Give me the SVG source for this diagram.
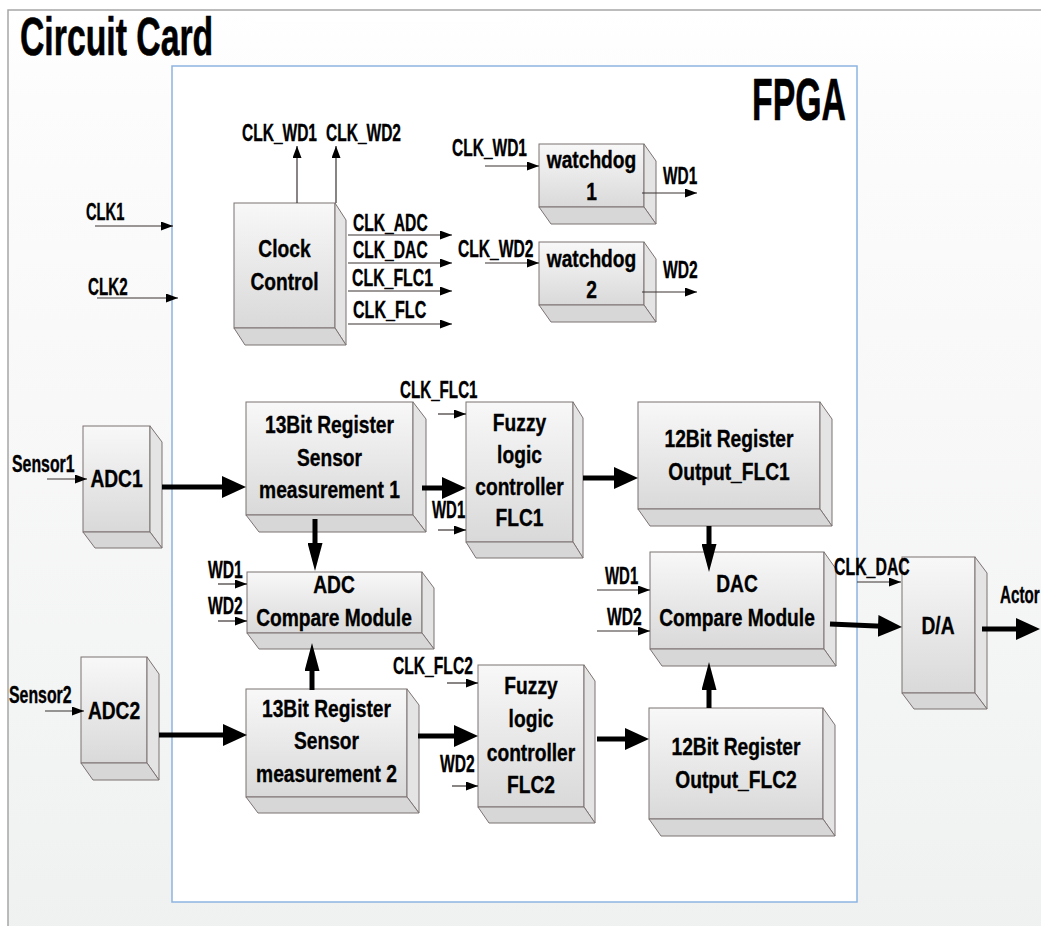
<svg xmlns="http://www.w3.org/2000/svg" width="1041" height="926" viewBox="0 0 1041 926">
<defs>
<linearGradient id="cardBg" x1="0" y1="0" x2="0" y2="1">
<stop offset="0" stop-color="#ffffff"/>
<stop offset="0.09" stop-color="#fdfcfc"/>
<stop offset="1" stop-color="#eef0f0"/>
</linearGradient>
<linearGradient id="frontGrad" x1="0" y1="0" x2="0" y2="1">
<stop offset="0" stop-color="#f8f8f8"/>
<stop offset="1" stop-color="#d9d9d9"/>
</linearGradient>
<marker id="ah" viewBox="0 0 12 9" refX="12" refY="4.5" markerWidth="12" markerHeight="9" markerUnits="userSpaceOnUse" orient="auto">
<path d="M0,0 L12,4.5 L0,9 z" fill="#000"/>
</marker>
<marker id="AH" viewBox="0 0 24 22" refX="4" refY="11" markerWidth="24" markerHeight="22" markerUnits="userSpaceOnUse" orient="auto">
<path d="M0,0 L24,11 L0,22 z" fill="#000"/>
</marker>
<marker id="AHv" viewBox="0 0 28 15" refX="4" refY="7.5" markerWidth="28" markerHeight="15" markerUnits="userSpaceOnUse" orient="auto">
<path d="M0,0 L28,7.5 L0,15 z" fill="#000"/>
</marker>
</defs>
<style>
.front{fill:url(#frontGrad);stroke:#7d7272;stroke-width:1}
.side{fill:#e4e4e4;stroke:#7d7272;stroke-width:1}
.bottom{fill:#d7d7d7;stroke:#7d7272;stroke-width:1}
text{font-family:"Liberation Sans",Arial,sans-serif;font-weight:bold;fill:#000;stroke:#000;stroke-width:0.35}
.lbl{font-size:24px;text-anchor:middle}
.sm{font-size:23px}
.title{stroke-width:0.6}
.thin{stroke:#3a3333;stroke-width:1.2;fill:none;marker-end:url(#ah)}
.thick{stroke:#000;stroke-width:5;fill:none;marker-end:url(#AH)}
.thickv{stroke:#000;stroke-width:5;fill:none;marker-end:url(#AHv)}
</style>

<g id="circuit-card">
<rect x="8" y="10" width="1100" height="1000" fill="url(#cardBg)" stroke="#a6a6a6" stroke-width="1.5"/>
<text class="title" font-size="53" transform="translate(20,55) scale(0.637,1)">Circuit Card</text>
</g>

<g id="fpga">
<rect x="172" y="66" width="685" height="836" fill="#ffffff" stroke="#8db4e2" stroke-width="1.5"/>
<text class="title" font-size="60" transform="translate(752,120) scale(0.564,1)">FPGA</text>
</g>

<g id="clock-control">
<rect class="front" x="234" y="203" width="101" height="125"/>
<polygon class="side" points="335,203 346,220 346,345 335,328"/>
<polygon class="bottom" points="234,328 335,328 346,345 245,345"/>
<text class="lbl" transform="translate(284.5,256.7) scale(0.8,1)">Clock</text>
<text class="lbl" transform="translate(284.5,290) scale(0.8,1)">Control</text>
</g>

<g id="watchdog1">
<rect class="front" x="539" y="144" width="105" height="63"/>
<polygon class="side" points="644,144 656,161 656,224 644,207"/>
<polygon class="bottom" points="539,207 644,207 656,224 551,224"/>
<text class="lbl" transform="translate(591.5,168) scale(0.8,1)">watchdog</text>
<text class="lbl" transform="translate(591.5,200) scale(0.8,1)">1</text>
</g>

<g id="watchdog2">
<rect class="front" x="539" y="242" width="105" height="63"/>
<polygon class="side" points="644,242 656,259 656,322 644,305"/>
<polygon class="bottom" points="539,305 644,305 656,322 551,322"/>
<text class="lbl" transform="translate(591.5,266.7) scale(0.8,1)">watchdog</text>
<text class="lbl" transform="translate(591.5,298) scale(0.8,1)">2</text>
</g>

<g id="adc1">
<rect class="front" x="83" y="426" width="67" height="106"/>
<polygon class="side" points="150,426 162,442 162,548 150,532"/>
<polygon class="bottom" points="83,532 150,532 162,548 95,548"/>
<text class="lbl" transform="translate(116.5,487) scale(0.8,1)">ADC1</text>
</g>

<g id="register13-1">
<rect class="front" x="246" y="402" width="167" height="113"/>
<polygon class="side" points="413,402 426,419 426,532 413,515"/>
<polygon class="bottom" points="246,515 413,515 426,532 259,532"/>
<text class="lbl" transform="translate(329.5,433.3) scale(0.8,1)">13Bit Register</text>
<text class="lbl" transform="translate(329.5,465.7) scale(0.8,1)">Sensor</text>
<text class="lbl" transform="translate(329.5,498) scale(0.8,1)">measurement 1</text>
</g>

<g id="flc1">
<rect class="front" x="466" y="402" width="107" height="140"/>
<polygon class="side" points="573,402 583,418 583,558 573,542"/>
<polygon class="bottom" points="466,542 573,542 583,558 476,558"/>
<text class="lbl" transform="translate(519.5,431) scale(0.8,1)">Fuzzy</text>
<text class="lbl" transform="translate(519.5,462.7) scale(0.8,1)">logic</text>
<text class="lbl" transform="translate(519.5,495) scale(0.8,1)">controller</text>
<text class="lbl" transform="translate(519.5,526) scale(0.8,1)">FLC1</text>
</g>

<g id="register12-1">
<rect class="front" x="638" y="402" width="182" height="107"/>
<polygon class="side" points="820,402 832,419 832,526 820,509"/>
<polygon class="bottom" points="638,509 820,509 832,526 650,526"/>
<text class="lbl" transform="translate(729,446.7) scale(0.8,1)">12Bit Register</text>
<text class="lbl" transform="translate(729,480) scale(0.8,1)">Output_FLC1</text>
</g>

<g id="adc-compare">
<rect class="front" x="247" y="572" width="175" height="61"/>
<polygon class="side" points="422,572 434,588 434,649 422,633"/>
<polygon class="bottom" points="247,633 422,633 434,649 259,649"/>
<text class="lbl" transform="translate(334,593) scale(0.8,1)">ADC</text>
<text class="lbl" transform="translate(334,626) scale(0.8,1)">Compare Module</text>
</g>

<g id="dac-compare">
<rect class="front" x="650" y="552" width="174" height="97"/>
<polygon class="side" points="824,552 836,569 836,666 824,649"/>
<polygon class="bottom" points="650,649 824,649 836,666 662,666"/>
<text class="lbl" transform="translate(737,591.7) scale(0.8,1)">DAC</text>
<text class="lbl" transform="translate(737,626) scale(0.8,1)">Compare Module</text>
</g>

<g id="da">
<rect class="front" x="902" y="557" width="73" height="136"/>
<polygon class="side" points="975,557 987,573 987,709 975,693"/>
<polygon class="bottom" points="902,693 975,693 987,709 914,709"/>
<text class="lbl" transform="translate(938,634) scale(0.8,1)">D/A</text>
</g>

<g id="adc2">
<rect class="front" x="81" y="657" width="66" height="106"/>
<polygon class="side" points="147,657 159,674 159,780 147,763"/>
<polygon class="bottom" points="81,763 147,763 159,780 93,780"/>
<text class="lbl" transform="translate(114,719) scale(0.8,1)">ADC2</text>
</g>

<g id="register13-2">
<rect class="front" x="246" y="689" width="161" height="108"/>
<polygon class="side" points="407,689 419,705 419,813 407,797"/>
<polygon class="bottom" points="246,797 407,797 419,813 258,813"/>
<text class="lbl" transform="translate(326.5,716.7) scale(0.8,1)">13Bit Register</text>
<text class="lbl" transform="translate(326.5,749) scale(0.8,1)">Sensor</text>
<text class="lbl" transform="translate(326.5,781.5) scale(0.8,1)">measurement 2</text>
</g>

<g id="flc2">
<rect class="front" x="478" y="665" width="106" height="142"/>
<polygon class="side" points="584,665 595,681 595,823 584,807"/>
<polygon class="bottom" points="478,807 584,807 595,823 489,823"/>
<text class="lbl" transform="translate(531,694) scale(0.8,1)">Fuzzy</text>
<text class="lbl" transform="translate(531,727) scale(0.8,1)">logic</text>
<text class="lbl" transform="translate(531,760.7) scale(0.8,1)">controller</text>
<text class="lbl" transform="translate(531,793) scale(0.8,1)">FLC2</text>
</g>

<g id="register12-2">
<rect class="front" x="649" y="708" width="174" height="111"/>
<polygon class="side" points="823,708 835,725 835,836 823,819"/>
<polygon class="bottom" points="649,819 823,819 835,836 661,836"/>
<text class="lbl" transform="translate(736,755) scale(0.8,1)">12Bit Register</text>
<text class="lbl" transform="translate(736,787.7) scale(0.8,1)">Output_FLC2</text>
</g>

<g id="connectors">
<line class="thin" x1="95" y1="226" x2="173" y2="226"/>
<line class="thin" x1="97" y1="298" x2="178" y2="298"/>
<line class="thin" x1="297" y1="203" x2="297" y2="146"/>
<line class="thin" x1="336" y1="203" x2="336" y2="146"/>
<line class="thin" x1="348" y1="235" x2="452" y2="235"/>
<line class="thin" x1="348" y1="263" x2="452" y2="263"/>
<line class="thin" x1="348" y1="291" x2="452" y2="291"/>
<line class="thin" x1="348" y1="324" x2="452" y2="324"/>
<line class="thin" x1="485" y1="166" x2="539" y2="166"/>
<line class="thin" x1="485" y1="263" x2="539" y2="263"/>
<line class="thin" x1="642" y1="193" x2="697" y2="193"/>
<line class="thin" x1="642" y1="292" x2="697" y2="292"/>
<line class="thin" x1="47" y1="479" x2="87" y2="479"/>
<line class="thin" x1="45" y1="711" x2="84" y2="711"/>
<line class="thin" x1="438" y1="414" x2="466" y2="414"/>
<line class="thin" x1="438" y1="530" x2="466" y2="530"/>
<line class="thin" x1="218" y1="584" x2="247" y2="584"/>
<line class="thin" x1="218" y1="621" x2="247" y2="621"/>
<line class="thin" x1="447" y1="683" x2="478" y2="683"/>
<line class="thin" x1="452" y1="786" x2="478" y2="786"/>
<line class="thin" x1="597" y1="590" x2="650" y2="590"/>
<line class="thin" x1="597" y1="631" x2="650" y2="631"/>
<line class="thin" x1="857" y1="582" x2="901" y2="582"/>

<line class="thick" x1="162" y1="487" x2="226" y2="487"/>
<line class="thick" x1="422" y1="488" x2="446" y2="488"/>
<line class="thick" x1="583" y1="478" x2="618" y2="478"/>
<line class="thick" x1="159" y1="735" x2="227" y2="735"/>
<line class="thick" x1="418" y1="736" x2="458" y2="736"/>
<line class="thick" x1="597" y1="739" x2="629" y2="739"/>
<line class="thick" x1="830" y1="624" x2="882" y2="626.2"/>
<line class="thick" x1="982" y1="629" x2="1020" y2="629"/>
<line class="thickv" x1="315" y1="519" x2="315" y2="547"/>
<line class="thickv" x1="709" y1="526" x2="709" y2="548"/>
<line class="thickv" x1="312" y1="690" x2="312" y2="667"/>
<line class="thickv" x1="709" y1="708" x2="709" y2="686"/>
</g>

<g id="labels">
<text class="sm" transform="translate(242,140.7) scale(0.675,1)">CLK_WD1</text>
<text class="sm" transform="translate(326,140.7) scale(0.675,1)">CLK_WD2</text>
<text class="sm" transform="translate(353,230.7) scale(0.68,1)">CLK_ADC</text>
<text class="sm" transform="translate(353,258) scale(0.68,1)">CLK_DAC</text>
<text class="sm" transform="translate(352,286) scale(0.69,1)">CLK_FLC1</text>
<text class="sm" transform="translate(353,318) scale(0.7,1)">CLK_FLC</text>
<text class="sm" transform="translate(452,156) scale(0.675,1)">CLK_WD1</text>
<text class="sm" transform="translate(458,256.7) scale(0.68,1)">CLK_WD2</text>
<text class="sm" transform="translate(663,184) scale(0.67,1)">WD1</text>
<text class="sm" transform="translate(663,277.7) scale(0.68,1)">WD2</text>
<text class="sm" transform="translate(86,220) scale(0.64,1)">CLK1</text>
<text class="sm" transform="translate(88,295) scale(0.66,1)">CLK2</text>
<text class="sm" transform="translate(12,471.7) scale(0.69,1)">Sensor1</text>
<text class="sm" transform="translate(9,703) scale(0.69,1)">Sensor2</text>
<text class="sm" transform="translate(400,398) scale(0.66,1)">CLK_FLC1</text>
<text class="sm" transform="translate(432,518) scale(0.65,1)">WD1</text>
<text class="sm" transform="translate(208,577.7) scale(0.68,1)">WD1</text>
<text class="sm" transform="translate(208,614) scale(0.68,1)">WD2</text>
<text class="sm" transform="translate(393,674) scale(0.68,1)">CLK_FLC2</text>
<text class="sm" transform="translate(440,771.7) scale(0.68,1)">WD2</text>
<text class="sm" transform="translate(605,584) scale(0.65,1)">WD1</text>
<text class="sm" transform="translate(607,625) scale(0.68,1)">WD2</text>
<text class="sm" transform="translate(834,575) scale(0.69,1)">CLK_DAC</text>
<text class="sm" transform="translate(1000,603) scale(0.66,1)">Actor</text>
</g>
</svg>
